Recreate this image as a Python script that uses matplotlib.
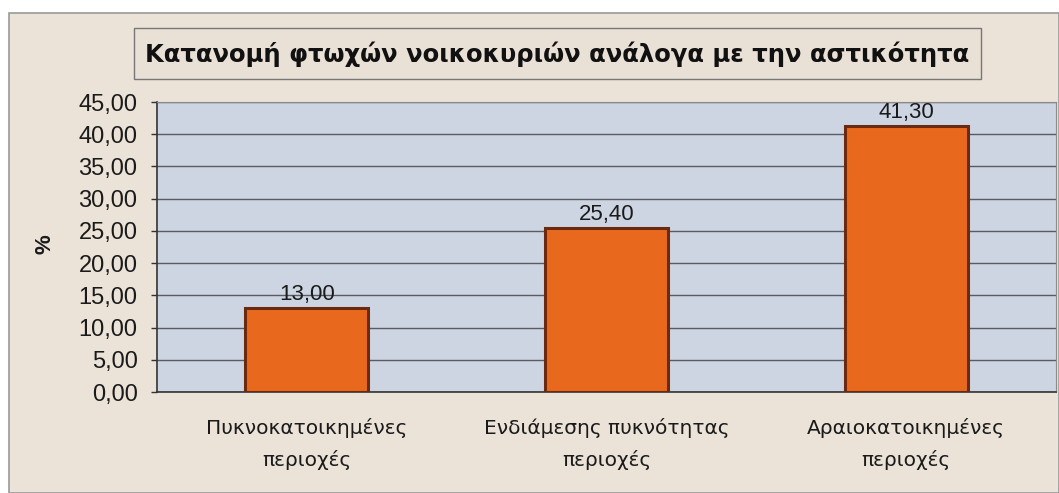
import matplotlib.pyplot as plt
from matplotlib.patches import Rectangle

# Data
categories = ['Πυκνοκατοικημένες\nπεριοχές', 'Ενδιάμεσης πυκνότητας\nπεριοχές', 'Αραιοκατοικημένες\nπεριοχές']
values = [13.00, 25.40, 41.30]
y_ticks = [0, 5, 10, 15, 20, 25, 30, 35, 40, 45]

plt.rcParams['font.family'] = ['Liberation Sans', 'DejaVu Sans']

W, H = 1059, 493
bg = '#ebe2d8'
fig = plt.figure(figsize=(10.59, 4.93), dpi=100)
fig.patch.set_facecolor('white')

# outer frame
fig.patches.append(Rectangle((9 / W, 0), 1 - 9 / W, 1 - 13 / H, transform=fig.transFigure,
                             facecolor=bg, edgecolor='#9a9a9a', linewidth=1.2, zorder=-10))
# title box
fig.patches.append(Rectangle((134 / W, 1 - 79 / H), (981 - 134) / W, 51 / H, transform=fig.transFigure,
                             facecolor='#e9e0d6', edgecolor='#777777', linewidth=1, zorder=-5))
fig.text(557 / W, 1 - 54 / H, 'Κατανομή φτωχών νοικοκυριών ανάλογα με την αστικότητα',
         ha='center', va='center', fontsize=17.5, fontweight='bold', color='#111111',
         family=['DejaVu Sans'])

ax = fig.add_axes([157 / W, 101 / H, (1056 - 157) / W, (392 - 102) / H])
ax.set_facecolor('#cdd5e2')

x = range(len(categories))
ax.bar(x, values, width=0.41, color='#e8691e', edgecolor='#6b2a10', linewidth=2.2, zorder=3)

for xi, v in zip(x, values):
    ax.text(xi, v + 0.5, f'{v:.2f}'.replace('.', ','), ha='center', va='bottom',
            fontsize=16, color='#1a1a1a', zorder=4)

ax.set_xlim(-0.5, len(categories) - 0.5)
ax.set_ylim(0, 45)
ax.set_yticks(y_ticks)
ax.set_yticklabels([f'{t:.2f}'.replace('.', ',') for t in y_ticks], fontsize=17, color='#1a1a1a')
ax.set_xticks(list(x))
ax.set_xticklabels(categories, fontsize=14.5, color='#1a1a1a', linespacing=1.75,
                   family=['DejaVu Sans'])
ax.tick_params(axis='x', length=0, pad=19)
ax.tick_params(axis='y', length=4, width=1, color='#333333', pad=10)

ax.yaxis.grid(True, color='#5a5a62', linewidth=1)
ax.set_axisbelow(True)
for side in ['top', 'right']:
    ax.spines[side].set_color('#8a8a8a')
    ax.spines[side].set_linewidth(0.8)
for side in ['left', 'bottom']:
    ax.spines[side].set_color('#333333')
    ax.spines[side].set_linewidth(1.2)

fig.text(45 / W, 1 - 244 / H, '%', rotation=90, ha='center', va='center', fontsize=16,
         fontweight='bold', color='#1a1a1a')

fig.savefig('out.png', dpi=100, facecolor=fig.get_facecolor())
